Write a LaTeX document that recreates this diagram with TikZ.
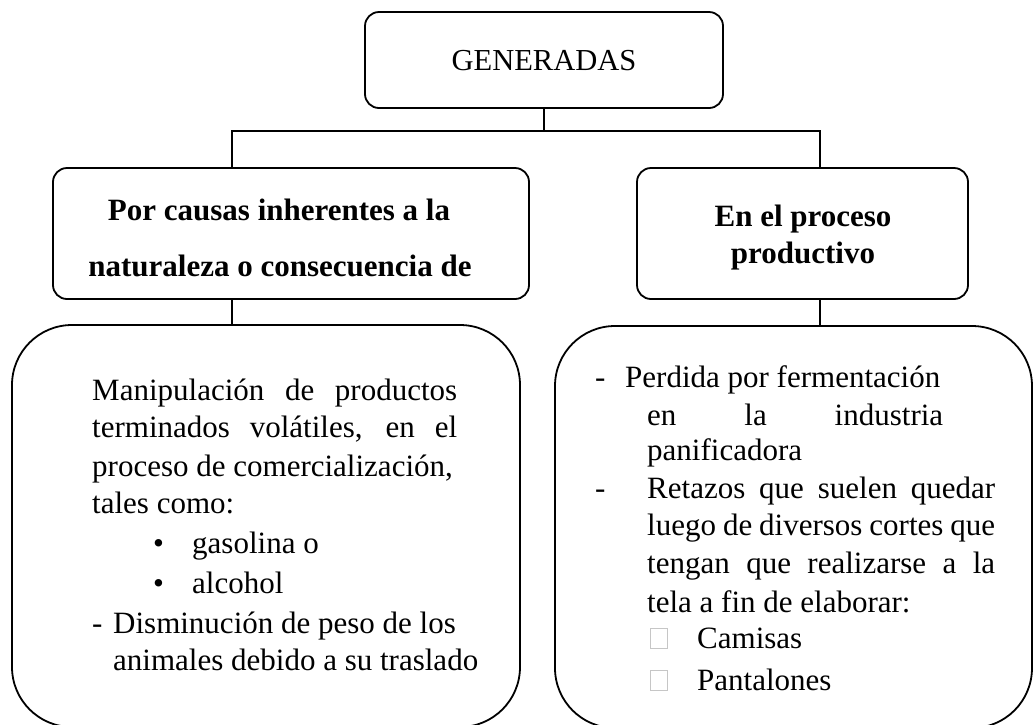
\documentclass[tikz,border=0pt]{standalone}
\usepackage{fontspec}
\setmainfont{Liberation Serif}
\begin{document}
\begin{tikzpicture}[x=1pt,y=-1pt,
  box/.style={draw, line width=1.8pt, rounded corners=14pt, inner sep=0pt},
  bigbox/.style={draw, line width=1.8pt, rounded corners=60pt, inner sep=0pt},
  conn/.style={line width=1.8pt},
  txt/.style={inner sep=0pt, anchor=base west, font=\fontsize{31}{38}\selectfont},
  ctxt/.style={inner sep=0pt, anchor=base, font=\fontsize{30.5}{38}\selectfont},
  btxt/.style={inner sep=0pt, anchor=base, font=\fontsize{31}{38}\selectfont\bfseries},
  sq/.style={draw=gray!45, line width=0.8pt, inner sep=0pt, minimum width=17pt, minimum height=20pt, anchor=south west}
]
\useasboundingbox (0,0) rectangle (1034,724);
\clip (0,0) rectangle (1034,724);

% boxes
\node[box, minimum width=358pt, minimum height=96pt] (gen) at (544,60) {};
\node[box, minimum width=476pt, minimum height=131pt] (left) at (291,233.5) {};
\node[box, minimum width=331pt, minimum height=131pt] (right) at (802.5,233.5) {};
\node[bigbox, minimum width=508pt, minimum height=402pt] (bl) at (266,526) {};
\node[bigbox, minimum width=477pt, minimum height=402pt] (br) at (793.5,527) {};

% connectors
\coordinate (jl) at (232,131);
\coordinate (jr) at (820,131);
\draw[conn] (gen.south) -- (gen.south |- jl);
\draw[conn] (left.north -| jl) -- (jl) -- (jr) -- (right.north -| jr);
\draw[conn] (left.south -| jl) -- (bl.north -| jl);
\draw[conn] (right.south -| jr) -- (br.north -| jr);

% titles
\node[ctxt] (gent) at (544,70) {GENERADAS};
\node[btxt] (l1) at (279,220.5) {Por causas inherentes a la};
\node[btxt] (l2) at (280,276.5) {naturaleza o consecuencia de};
\node[btxt] (r1) at (803,226) {En el proceso};
\node[btxt] (r2) at (803,263) {productivo};

% bottom left text
\node[txt] (a1) at (92,400) {\makebox[365pt][s]{Manipulación de productos}};
\node[txt] (a2) at (92,437) {\makebox[365pt][s]{terminados volátiles, en el}};
\node[txt] (a3) at (92,476) {proceso de comercialización,};
\node[txt] (a4) at (92,513) {tales como:};
\node[txt] (b1) at (153,553) {•};
\node[txt] (a5) at (192,553) {gasolina o};
\node[txt] (b2) at (153,593) {•};
\node[txt] (a6) at (192,593) {alcohol};
\node[txt] (d1) at (92,633) {-};
\node[txt] (a7) at (113,633) {Disminución de peso de los};
\node[txt] (a8) at (113,670) {animales debido a su traslado};

% bottom right text
\node[txt] (d2) at (595,387) {-};
\node[txt] (c1) at (625,387) {Perdida por fermentación};
\node[txt] (c2) at (647,425) {\makebox[296pt][s]{en la industria}};
\node[txt] (c3) at (647,460) {panificadora};
\node[txt] (d3) at (595,498) {-};
\node[txt] (c4) at (647,498) {\makebox[348pt][s]{Retazos que suelen quedar}};
\node[txt] (c5) at (647,535) {\makebox[348pt][s]{luego de diversos cortes que}};
\node[txt] (c6) at (647,573) {\makebox[348pt][s]{tengan que realizarse a la}};
\node[txt] (c7) at (647,612) {tela a fin de elaborar:};
\node[sq] (s1) at (650,649) {};
\node[txt] (c8) at (697,648) {Camisas};
\node[sq] (s2) at (650,691) {};
\node[txt] (c9) at (697,690) {Pantalones};
\end{tikzpicture}
\end{document}
